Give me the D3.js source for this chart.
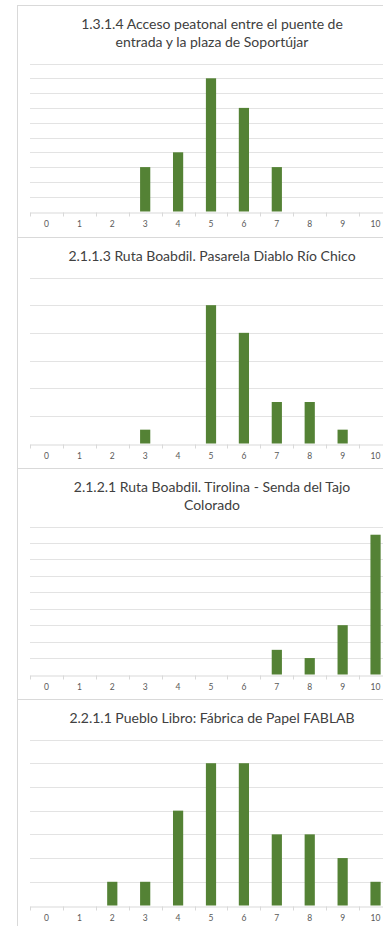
<!DOCTYPE html>
<html>
<head>
<meta charset="utf-8">
<script src="https://cdn.jsdelivr.net/npm/d3@7"></script>
<style>
  body { margin: 0; background: #fff; }
  svg { display: block; font-family: Lato, "Open Sans", sans-serif; }
</style>
</head>
<body>
<div class="canvas"></div>
<script>
/**
 * Data
 */
const categories = ["0", "1", "2", "3", "4", "5", "6", "7", "8", "9", "10"]

const titles = [
    ["1.3.1.4 Acceso peatonal entre el puente de", "entrada y la plaza de Soportújar"],
    ["2.1.1.3 Ruta Boabdil. Pasarela Diablo Río Chico"],
    ["2.1.2.1 Ruta Boabdil. Tirolina - Senda del Tajo", "Colorado"],
    ["2.2.1.1 Pueblo Libro: Fábrica de Papel FABLAB"]
]

const valuesAcceso = [0, 0, 0, 3, 4, 9, 7, 3, 0, 0, 0]
const valuesPasarela = [0, 0, 0, 1, 0, 10, 8, 3, 3, 1, 0]
const valuesTirolina = [0, 0, 0, 0, 0, 0, 0, 3, 2, 6, 17]
const valuesFablab = [0, 0, 1, 1, 4, 6, 6, 3, 3, 2, 1]

// value axis max and major unit for each chart
const axisMax = [10, 12, 18, 7]
const axisStep = [1, 2, 2, 1]

const series = [valuesAcceso, valuesPasarela, valuesTirolina, valuesFablab]

/**
 * Dimension setup
 */
const dims = { width: 383, height: 926 }
const panelTops = [5, 237, 468, 699]
const plot = { left: 30, right: 392 }

const svg = d3.select(".canvas")
    .append("svg")
    .attr("width", dims.width)
    .attr("height", dims.height)

// band scale shared by all four charts
const x = d3.scaleBand()
    .domain(categories)
    .range([plot.left, plot.right])
    .paddingInner(0.69)
    .paddingOuter(0.345)

const gap = (x.step() - x.bandwidth()) / 2

// outer frame: left edge and separators
svg.append("line")
    .attr("x1", 17.5).attr("x2", 17.5)
    .attr("y1", panelTops[0]).attr("y2", dims.height)
    .attr("stroke", "#d9d9d9")

panelTops.forEach(t => {
    svg.append("line")
        .attr("x1", 17.5).attr("x2", dims.width)
        .attr("y1", t + 0.5).attr("y2", t + 0.5)
        .attr("stroke", "#d9d9d9")
})

/**
 * Draw each chart
 */
series.forEach((vals, i) => {
    const top = panelTops[i]
    const g = svg.append("g").attr("transform", `translate(0,${top})`)
    const lines = titles[i]

    const plotTop = lines.length > 1 ? 58.5 : 40.5
    const base = 206.5

    const y = d3.scaleLinear()
        .domain([0, axisMax[i]])
        .range([base, plotTop])

    // title
    g.append("text")
        .attr("x", 212)
        .attr("y", 23.5)
        .attr("text-anchor", "middle")
        .attr("fill", "#404040")
        .attr("font-size", "14px")
        .selectAll("tspan")
        .data(lines)
        .enter()
        .append("tspan")
            .attr("x", 212)
            .attr("dy", (d, j) => j === 0 ? 0 : 18.5)
            .text(d => d)

    // gridlines
    g.append("g")
        .selectAll("line")
        .data(d3.range(axisStep[i], axisMax[i] + axisStep[i] / 2, axisStep[i]))
        .enter()
        .append("line")
            .attr("x1", plot.left).attr("x2", plot.right)
            .attr("y1", d => Math.round(y(d)) + 0.5)
            .attr("y2", d => Math.round(y(d)) + 0.5)
            .attr("stroke", "#e3e3e3")

    // category axis
    const xAxis = d3.axisBottom(x).tickSize(0).tickPadding(8)
    const ax = g.append("g")
        .attr("transform", `translate(0,${Math.round(base) + 0.5})`)
        .call(xAxis)
    ax.select(".domain").attr("stroke", "#d9d9d9")
    ax.selectAll("text")
        .attr("fill", "#595959")
        .attr("font-size", "8.5px")
        .attr("font-family", "Lato, sans-serif")

    // tick marks between categories
    ax.selectAll(".sep")
        .data(categories)
        .enter()
        .append("line")
            .attr("class", "sep")
            .attr("x1", d => Math.round(x(d) - gap) + 0.5)
            .attr("x2", d => Math.round(x(d) - gap) + 0.5)
            .attr("y1", 0).attr("y2", 4)
            .attr("stroke", "#d9d9d9")

    // bars
    g.append("g")
        .selectAll("rect")
        .data(vals)
        .enter()
        .append("rect")
            .attr("x", (d, j) => x(categories[j]))
            .attr("width", x.bandwidth())
            .attr("y", d => y(d))
            .attr("height", d => y(0) - y(d))
            .attr("fill", "#548235")
})
</script>
</body>
</html>
